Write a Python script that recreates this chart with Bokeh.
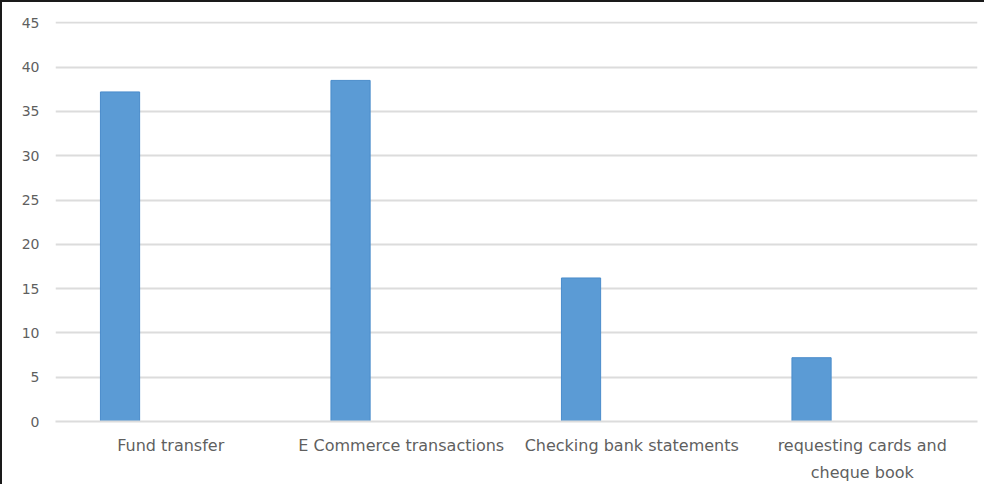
from bokeh.plotting import figure
from bokeh.models import ColumnDataSource, FactorRange, FixedTicker
from bokeh.transform import dodge
from bokeh.embed import file_html
from bokeh.resources import INLINE

categories = ["Fund transfer", "E Commerce transactions", "Checking bank statements",
              "requesting cards and\ncheque book"]
values = [37.2, 38.5, 16.2, 7.2]
y_ticks = [0, 5, 10, 15, 20, 25, 30, 35, 40, 45]

source = ColumnDataSource(data=dict(cat=categories, val=values))

p = figure(width=984, height=484, x_range=FactorRange(*categories), y_range=(0, 45.15),
           output_backend="svg", toolbar_location=None,
           min_border_left=53, min_border_right=9, min_border_top=19, min_border_bottom=65)
p.styles = {"border-top": "2px solid #1a1a1a", "border-left": "2px solid #1a1a1a"}

p.vbar(x=dodge("cat", -0.22, range=p.x_range), top="val", width=0.17, source=source,
       fill_color="#5b9bd5", line_color="#4a8ccb", line_width=1)

p.outline_line_color = None
p.background_fill_color = "white"
p.border_fill_color = "white"

p.xgrid.grid_line_color = None
p.ygrid.grid_line_color = "#dcdcdc"
p.ygrid.grid_line_width = 2
p.yaxis.ticker = FixedTicker(ticks=y_ticks)

for ax in (p.xaxis, p.yaxis):
    ax.axis_line_color = None
    ax.major_tick_line_color = None
    ax.minor_tick_line_color = None
    ax.major_label_text_font = "DejaVu Sans"
    ax.major_label_text_color = "#5f5f5f"

p.xaxis.major_label_text_font_size = "16px"
p.xaxis.major_label_text_line_height = 1.45
p.yaxis.major_label_text_font_size = "14px"
p.xaxis.axis_line_color = "#dcdcdc"
p.xaxis.axis_line_width = 2
p.yaxis.major_label_standoff = 10
p.xaxis.major_label_standoff = 8

open("out.html", "w").write(file_html(p, INLINE))
